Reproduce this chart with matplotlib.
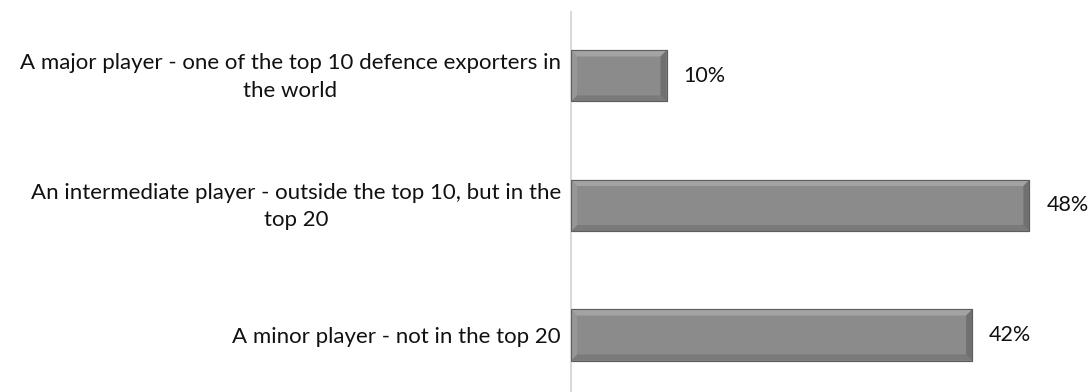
import numpy as np
import matplotlib
matplotlib.use('Agg')
from matplotlib import pyplot as plt
from matplotlib.patches import Polygon

categories = ['A major player - one of the top 10 defence exporters in\nthe world',
              'An intermediate player - outside the top 10, but in the\ntop 20',
              'A minor player - not in the top 20']
values = [10, 48, 42]

plt.rcParams['font.family'] = ['Lato', 'DejaVu Sans']

fig = plt.figure(figsize=(10.91, 3.92), dpi=100)
ax = fig.add_axes([571/1091, 0, 477.5/1091, 380/392])

pos = np.arange(len(values))
bar_h = 0.394
bars = ax.barh(pos, values, height=bar_h, color='#8b8b8b', edgecolor='#5e5e5e', linewidth=0.8, zorder=2)

ax.set_xlim(0, 50)
ax.set_ylim(2.44, -0.494)

# bevel edges, sized in pixels then converted to data units
px_x = 50 / 477.5
px_y = 2.934 / 380
bx, by = 6 * px_x, 6 * px_y
for b in bars:
    x0, x1 = b.get_x(), b.get_x() + b.get_width()
    yt, yb = b.get_y(), b.get_y() + b.get_height()
    faces = [
        ([(x0, yt), (x1, yt), (x1 - bx, yt + by), (x0 + bx, yt + by)], '#a3a3a3'),
        ([(x0, yb), (x1, yb), (x1 - bx, yb - by), (x0 + bx, yb - by)], '#7a7a7a'),
        ([(x0, yt), (x0 + bx, yt + by), (x0 + bx, yb - by), (x0, yb)], '#979797'),
        ([(x1, yt), (x1 - bx, yt + by), (x1 - bx, yb - by), (x1, yb)], '#707070'),
    ]
    for pts, c in faces:
        ax.add_patch(Polygon(pts, closed=True, facecolor=c, edgecolor='none', zorder=3))
    ax.add_patch(Polygon([(x0, yt), (x1, yt), (x1, yb), (x0, yb)], closed=True,
                         facecolor='none', edgecolor='#5e5e5e', linewidth=0.8, zorder=4))
    ax.text(x1 + 17 * px_x, b.get_y() + b.get_height() / 2, '%d%%' % b.get_width(),
            va='center', ha='left', fontsize=15.5, color='#111111')

# category labels drawn by hand to control their vertical placement
for p, lab in zip(pos, categories):
    dy = 1 * px_y if '\n' in lab else 2 * px_y
    ax.text(-10 / 477.5, p + dy, lab, transform=ax.get_yaxis_transform(),
            ha='right', va='center', multialignment='center', linespacing=1.46,
            fontsize=16, color='#111111')

ax.set_yticks([])
ax.set_xticks([])
for s in ['top', 'right', 'bottom']:
    ax.spines[s].set_visible(False)
ax.spines['left'].set_color('#d9d9d9')
ax.spines['left'].set_linewidth(1.5)

fig.savefig('out.png', dpi=100)
